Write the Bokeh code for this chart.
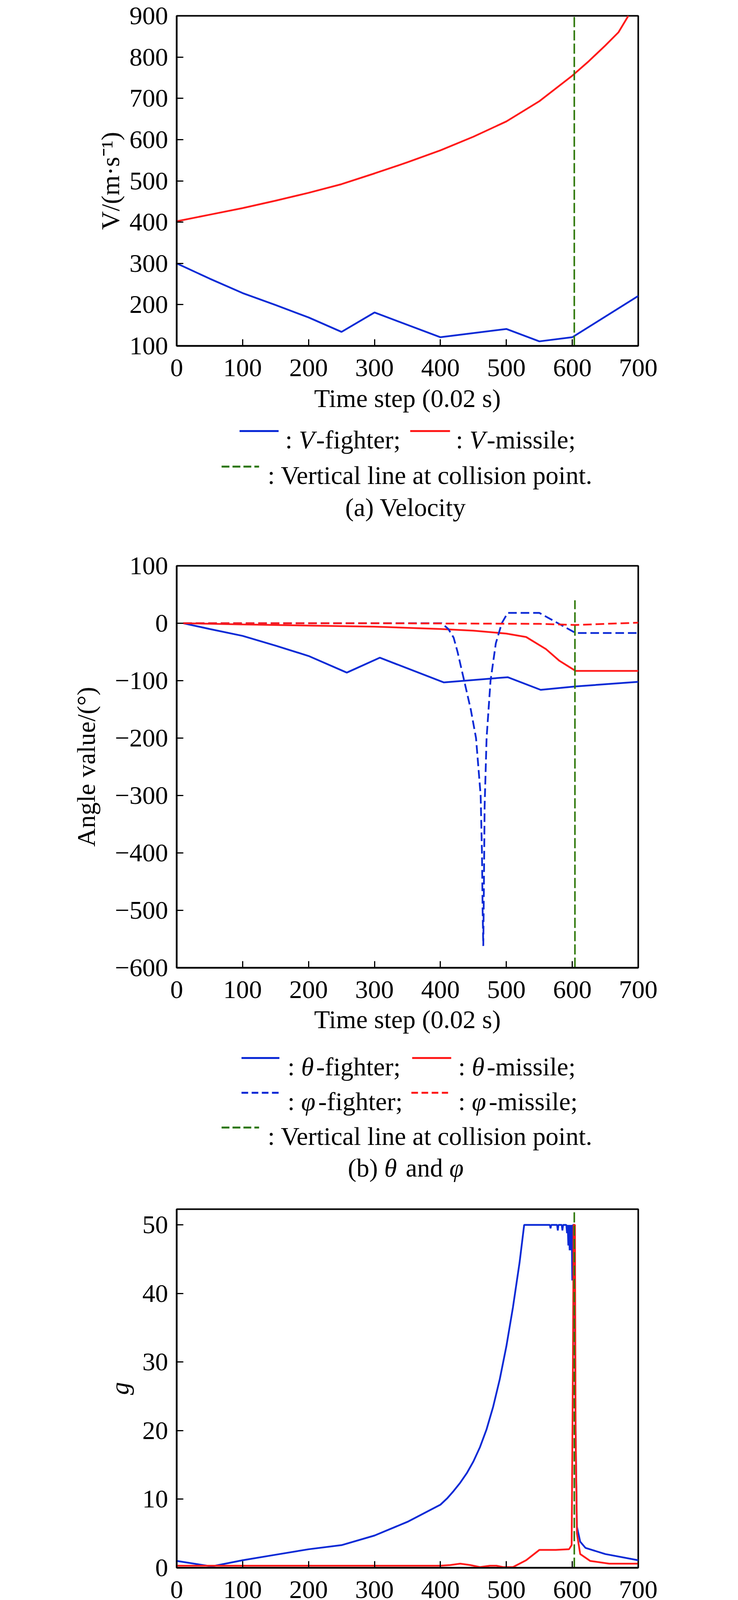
from bokeh.plotting import figure
from bokeh.layouts import column
from bokeh.models import Range1d, FixedTicker, ColumnDataSource
from bokeh.core.properties import value, field
from bokeh.embed import file_html
from bokeh.resources import INLINE

# ---------------- data ----------------
step_ticks = [0, 100, 200, 300, 400, 500, 600, 700]

# (a) velocity
vf_t = [0, 50, 100, 150, 200, 250, 300, 400, 500, 550, 600, 700]
vf_v = [300, 263, 228, 199, 169, 134, 181, 121, 141, 111, 121, 221]
vm_t = [0, 50, 100, 150, 200, 250, 300, 350, 400, 450, 500, 550, 600, 625, 650, 670, 685]
vm_v = [402, 418, 434, 452, 471, 492, 518, 545, 574, 607, 644, 693, 755, 790, 828, 860, 900]
a_ticks = [100, 200, 300, 400, 500, 600, 700, 800, 900]
a_labels = ["100", "200", "300", "400", "500", "600", "700", "800", "900"]

# (b) angles
thf_t = [10, 50, 100, 150, 200, 258, 308, 405, 502, 552, 605, 700]
thf_v = [0, -10, -22, -39, -57, -86, -60, -103, -94, -116, -110, -102]
thm_t = [10, 100, 200, 300, 400, 450, 500, 530, 560, 580, 605, 700]
thm_v = [0, -2, -4, -6, -10, -13, -18, -24, -45, -65, -83, -83]
phf_t = [10, 200, 402, 412, 420, 426, 436, 446, 454, 461, 463, 464, 465, 466, 467, 470, 476, 484, 493, 502, 550, 605, 700]
phf_v = [0, 0, 0, -10, -25, -50, -100, -150, -200, -300, -400, -500, -562, -450, -320, -200, -100, -35, 0, 18, 18, -17, -17]
phm_t = [10, 300, 550, 605, 700]
phm_v = [0, 0, -1, -3, 1]
b_ticks = [-600, -500, -400, -300, -200, -100, 0, 100]
b_labels = ["\u2212600", "\u2212500", "\u2212400", "\u2212300", "\u2212200", "\u2212100", "0", "100"]

# (c) overloads
ny_t = [0, 53, 100, 150, 200, 250, 300, 350, 400, 410, 420, 430, 440, 450, 460, 470, 480, 490, 500, 510,
        520, 527, 566, 567, 568, 577, 578, 579, 584, 585, 586, 591, 592, 593, 594, 595, 596, 597, 598, 599,
        600, 601, 603, 605, 607, 612, 620, 650, 700]
ny_v = [1.0, 0.2, 1.1, 1.9, 2.7, 3.3, 4.7, 6.7, 9.2, 10.1, 11.2, 12.4, 13.8, 15.5, 17.6, 20.2, 23.5, 27.5, 32.3, 38.0,
        44.5, 50, 50, 49.5, 50, 50, 49.2, 50, 50, 49.2, 50, 50, 48.8, 50, 47, 50, 46.3, 50, 46.3, 50,
        41.9, 50, 50, 20, 6, 3.8, 2.9, 2.0, 1.1]
nz_t = [0, 100, 200, 300, 400, 415, 430, 445, 460, 475, 485, 495, 510, 530, 550, 575, 595, 599, 601, 602,
        604, 605, 607, 612, 627, 656, 700]
nz_v = [0.3, 0.3, 0.3, 0.3, 0.3, 0.4, 0.6, 0.4, 0.1, 0.3, 0.3, 0.1, 0.1, 1.1, 2.6, 2.6, 2.7, 3.3, 30, 50,
        50, 20, 5, 2.0, 1.0, 0.6, 0.6]
c_ticks = [0, 10, 20, 30, 40, 50]
c_labels = ["0", "10", "20", "30", "40", "50"]

# (d) height
hf_t = [20, 50, 100, 150, 200, 250, 300, 350, 400, 450, 500, 540, 580, 605, 650, 700]
hf_v = [5000, 4985, 4915, 4805, 4680, 4545, 4400, 4250, 4115, 3990, 3860, 3757, 3660, 3606, 3485, 3282]
hm_t = [150, 200, 250, 300, 350, 400, 450, 500, 530, 545, 565, 585, 605, 650, 700]
hm_v = [5000, 4988, 4965, 4935, 4890, 4825, 4730, 4580, 4440, 4340, 4130, 3870, 3600, 2860, 2030]
d_ticks = [2000, 2500, 3000, 3500, 4000, 4500, 5000]
d_labels = ["2 000", "2 500", "3 000", "3 500", "4 000", "4 500", "5 000"]

# collision step per panel and vertical extent of the marker line
collision_step = [603, 604, 603, 606]
collision_y = [(100, 900), (-600, 40), (0, 52), (2000, 5000)]

# ---------------- style ----------------
W = 1870
FL = 452
FW = 1182
FONT = "Liberation Serif"
FS = 66
BLUE = "#0b2ad6"
RED = "#ff1a1a"
GREEN = "#2e780a"
LW = 4.5

RM = {' ': 250, ':': 278, ';': 278, '-': 333, '(': 333, ')': 333, '.': 250, ',': 250,
      'a': 444, 'b': 500, 'c': 444, 'd': 500, 'e': 444, 'f': 333, 'g': 500, 'h': 500, 'i': 278,
      'l': 278, 'm': 778, 'n': 500, 'o': 500, 'p': 500, 'r': 333, 's': 389, 't': 278, 'u': 500,
      'v': 500, 'y': 500, 'F': 556, 'H': 722, 'M': 889, 'V': 722}
IT = {'V': 611, 'N': 667, 'n': 500, 'y': 444, 'x': 444, 'z': 389, '\u03b8': 520, '\u03c6': 600}


def plot_fig(top, fh, bottom, yr, yticks, ylabels, ylab, ylab_std, xlab_std, ylab_style="normal"):
    h = top + fh + bottom
    p = figure(width=W, height=h, x_range=Range1d(0, 700), y_range=Range1d(*yr),
               output_backend="svg", toolbar_location=None,
               min_border_left=FL, min_border_right=W - FL - FW,
               min_border_top=top, min_border_bottom=bottom)
    p.xgrid.visible = False
    p.ygrid.visible = False
    p.outline_line_color = "black"
    p.outline_line_width = 4
    p.outline_line_alpha = 1
    p.background_fill_color = "white"
    p.border_fill_color = "white"
    for ax in (p.xaxis[0], p.yaxis[0]):
        ax.axis_line_width = 4
        ax.axis_line_color = "black"
        ax.major_tick_in = 17
        ax.major_tick_out = 0
        ax.major_tick_line_width = 3
        ax.major_tick_line_color = "black"
        ax.minor_tick_line_color = None
        ax.major_label_text_font = FONT
        ax.major_label_text_font_size = f"{FS}px"
        ax.major_label_text_color = "black"
        ax.axis_label_text_font = FONT
        ax.axis_label_text_font_size = f"{FS}px"
        ax.axis_label_text_color = "black"
        ax.axis_label_text_font_style = "normal"
    p.xaxis.ticker = FixedTicker(ticks=step_ticks)
    p.xaxis.major_label_standoff = 34
    p.xaxis.axis_label = "Time step (0.02 s)"
    p.xaxis.axis_label_standoff = xlab_std
    p.yaxis.ticker = FixedTicker(ticks=yticks)
    p.yaxis.major_label_overrides = {t: l for t, l in zip(yticks, ylabels)}
    p.yaxis.major_label_standoff = 22
    p.yaxis.axis_label = ylab
    p.yaxis.axis_label_standoff = ylab_std
    p.yaxis.axis_label_text_font_style = ylab_style
    return p


def ann_fig(h):
    # frame aligned with the plot frames above; x data units == canvas pixels
    a = figure(width=W, height=h, x_range=Range1d(FL, FL + FW), y_range=Range1d(h, 0),
               x_axis_type=None, y_axis_type=None, output_backend="svg",
               toolbar_location=None, min_border_left=FL, min_border_right=W - FL - FW,
               min_border_top=0, min_border_bottom=0)
    a.outline_line_color = None
    a.background_fill_color = "white"
    a.border_fill_color = "white"
    return a


def R(t):
    return (t, "normal", FS, 0)


def I(t):
    return (t, "italic", FS, 0)


def S(t):
    return (t, "italic", 44, 13)


def tw(t, st, sz):
    return sum((IT if st == "italic" else RM).get(c, 500) for c in t) / 1000 * sz


def rich(src, x, yc, parts, center=False):
    widths = [tw(t, st, sz) + (4 if st == "italic" else 0) for t, st, sz, dy in parts]
    if center:
        x -= sum(widths) / 2
    for (t, st, sz, dy), w in zip(parts, widths):
        # SVG collapses leading/trailing blanks, so advance over them explicitly
        lead = len(t) - len(t.lstrip(" "))
        body = t.strip(" ")
        if body:
            src["x"].append(x + tw(" " * lead, "normal", sz))
            src["y"].append(yc + 22 + dy)
            src["text"].append(body)
            src["style"].append(st)
            src["size"].append(f"{sz}px")
        x += w


def draw_texts(a, src):
    a.text(x="x", y="y", text="text", source=ColumnDataSource(src),
           text_font=value(FONT), text_font_size=field("size"), text_font_style=field("style"),
           text_baseline="alphabetic", text_align="left", text_color="black")


def sample(a, x0, x1, y, color, dash="solid"):
    a.line(x=[x0, x1], y=[y, y], line_color=color, line_width=5, line_dash=dash)


def new_src():
    return {"x": [], "y": [], "text": [], "style": [], "size": []}


green_dash = "26 8"
phi_dash = "22 10"
leg_phi_dash = "17 9"
leg_green_dash = "20 8"
collision_text = [R(": Vertical line at collision point.")]

# ---------------- (a) ----------------
pa = plot_fig(40, 845, 180, (100, 900), a_ticks, a_labels, "V/(m\u00b7s\u207b\u00b9)", 10, 17)
pa.line(vf_t, vf_v, line_color=BLUE, line_width=LW)
pa.line(vm_t, vm_v, line_color=RED, line_width=LW)
pa.line([collision_step[0]] * 2, list(collision_y[0]), line_color=GREEN, line_width=4, line_dash=green_dash)

aa = ann_fig(343)
s = new_src()
sample(aa, 613, 713, 38, BLUE)
rich(s, 730, 38, [R(": "), I("V"), R("-fighter;")])
sample(aa, 1050, 1152, 38, RED)
rich(s, 1167, 38, [R(": "), I("V"), R("-missile;")])
sample(aa, 567, 663, 129, GREEN, leg_green_dash)
rich(s, 685, 129, collision_text)
rich(s, 1042, 211, [R("(a) Velocity")], center=True)
draw_texts(aa, s)

# ---------------- (b) ----------------
pb = plot_fig(40, 1029, 178, (-600, 100), b_ticks, b_labels, "Angle value/(\u00b0)", 34, 15)
pb.line(thf_t, thf_v, line_color=BLUE, line_width=LW)
pb.line(thm_t, thm_v, line_color=RED, line_width=LW)
pb.line(phf_t, phf_v, line_color=BLUE, line_width=LW, line_dash=phi_dash)
pb.line(phm_t, phm_v, line_color=RED, line_width=LW, line_dash=phi_dash)
pb.line([collision_step[1]] * 2, list(collision_y[1]), line_color=GREEN, line_width=4, line_dash=green_dash)

ab = ann_fig(400)
s = new_src()
sample(ab, 618, 715, 53, BLUE)
rich(s, 736, 53, [R(": "), I("\u03b8"), R("-fighter;")])
sample(ab, 1055, 1155, 53, RED)
rich(s, 1173, 53, [R(": "), I("\u03b8"), R("-missile;")])
sample(ab, 618, 713, 142, BLUE, leg_phi_dash)
rich(s, 736, 142, [R(": "), I("\u03c6"), R("-fighter;")])
sample(ab, 1053, 1147, 142, RED, leg_phi_dash)
rich(s, 1173, 142, [R(": "), I("\u03c6"), R("-missile;")])
sample(ab, 567, 663, 231, GREEN, leg_green_dash)
rich(s, 685, 231, collision_text)
rich(s, 1042, 312, [R("(b) "), I("\u03b8"), R(" and "), I("\u03c6")], center=True)
draw_texts(ab, s)

# ---------------- (c) ----------------
pc = plot_fig(40, 918, 176, (0, 52.3), c_ticks, c_labels, "g", 19, 14, "italic")
pc.line(ny_t, ny_v, line_color=BLUE, line_width=LW)
pc.line(nz_t, nz_v, line_color=RED, line_width=LW)
pc.line([collision_step[2]] * 2, list(collision_y[2]), line_color=GREEN, line_width=4, line_dash=green_dash)

ac = ann_fig(308)
s = new_src()
sample(ac, 807, 904, 37, BLUE)
rich(s, 926, 37, [R(": "), I("n"), S("y"), R(";")])
sample(ac, 1064, 1161, 37, RED)
rich(s, 1183, 37, [R(": "), I("n"), S("z"), R(";")])
sample(ac, 567, 663, 123, GREEN, leg_green_dash)
rich(s, 685, 123, collision_text)
rich(s, 1034, 204, [R("(c) "), I("N"), S("y"), R(" and "), I("N"), S("x")], center=True)
draw_texts(ac, s)

# ---------------- (d) ----------------
pd_ = plot_fig(40, 895, 178, (2000, 5000), d_ticks, d_labels, "h/m", 15, 15)
pd_.line(hf_t, hf_v, line_color=BLUE, line_width=LW)
pd_.line(hm_t, hm_v, line_color=RED, line_width=LW)
pd_.line([collision_step[3]] * 2, list(collision_y[3]), line_color=GREEN, line_width=4, line_dash=green_dash)

ad = ann_fig(236)
s = new_src()
sample(ad, 667, 763, 38, BLUE)
rich(s, 784, 38, [R(": Fighter;")])
sample(ad, 1059, 1156, 38, RED)
rich(s, 1177, 38, [R(": Missile;")])
sample(ad, 567, 663, 126, GREEN, leg_green_dash)
rich(s, 685, 126, collision_text)
rich(s, 1044, 199, [R("(d) Height")], center=True)
draw_texts(ad, s)

layout = column(pa, aa, pb, ab, pc, ac, pd_, ad, spacing=0)
open("out.html", "w").write(file_html(layout, INLINE))
